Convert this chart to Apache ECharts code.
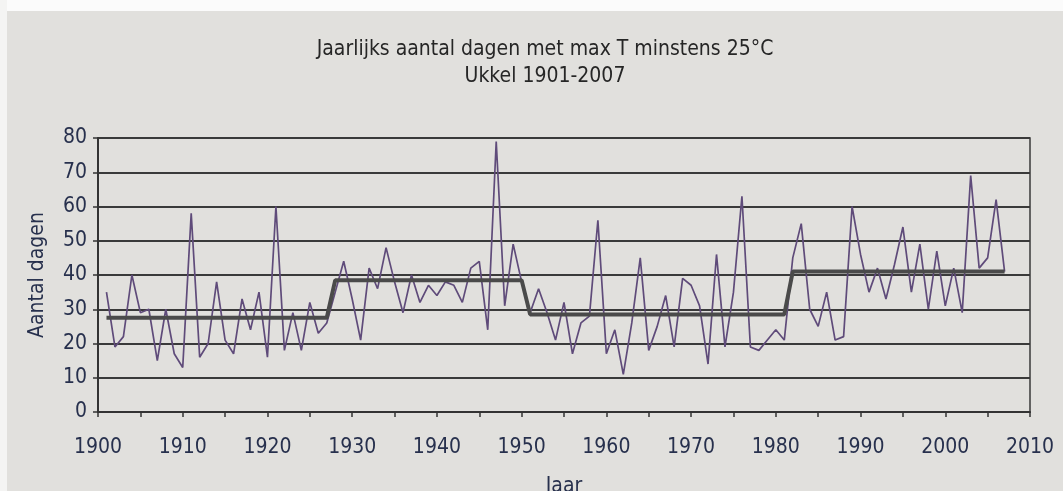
<!DOCTYPE html>
<html>
<head>
<meta charset="utf-8">
<script src="https://cdn.jsdelivr.net/npm/echarts@6/dist/echarts.min.js"></script>
<style>
html,body{margin:0;padding:0;background:#e1e0dd;}
#chart{width:1063px;height:491px;}
</style>
</head>
<body>
<div id="chart"></div>
<script>
// ---- Data ----
const years = [];
for (let y = 1901; y <= 2007; y++) years.push(y);

const daysAbove25 = [
  35, 19, 22, 40, 29, 30, 15, 30, 17, 13,   // 1901-1910
  58, 16, 20, 38, 21, 17, 33, 24, 35, 16,   // 1911-1920
  60, 18, 29, 18, 32, 23, 26, 35, 44, 33,   // 1921-1930
  21, 42, 36, 48, 38, 29, 40, 32, 37, 34,   // 1931-1940
  38, 37, 32, 42, 44, 24, 79, 31, 49, 38,   // 1941-1950
  29, 36, 29, 21, 32, 17, 26, 28, 56, 17,   // 1951-1960
  24, 11, 26, 45, 18, 25, 34, 19, 39, 37,   // 1961-1970
  31, 14, 46, 19, 35, 63, 19, 18, 21, 24,   // 1971-1980
  21, 45, 55, 30, 25, 35, 21, 22, 60, 46,   // 1981-1990
  35, 42, 33, 43, 54, 35, 49, 30, 47, 31,   // 1991-2000
  42, 29, 69, 42, 45, 62, 41                // 2001-2007
];

const periodStarts = [1901, 1928, 1951, 1982];
const periodEnds   = [1927, 1950, 1981, 2007];
const periodMeans  = [27.5, 38.5, 28.5, 41];

const yTicks = [0, 10, 20, 30, 40, 50, 60, 70, 80];
const xTickStart = 1900, xTickEnd = 2010, xTickStep = 10;

const titleText = 'Jaarlijks aantal dagen met max T minstens 25°C\nUkkel 1901-2007';
const yName = 'Aantal dagen';
const xName = 'Jaar';

// ---- Build series data ----
const lineData = years.map((y, i) => [y, daysAbove25[i]]);
const meanData = years.map(y => {
  for (let k = 0; k < periodStarts.length; k++) {
    if (y >= periodStarts[k] && y <= periodEnds[k]) return [y, periodMeans[k]];
  }
  return [y, null];
});

const FONT = "'Liberation Sans Narrow', 'DejaVu Sans Condensed', sans-serif";
const LABEL_COLOR = '#27304d';

const chart = echarts.init(document.getElementById('chart'), null, {renderer: 'canvas'});
chart.setOption({
  backgroundColor: '#e1e0dd',
  animation: false,
  graphic: [
    {type: 'rect', left: 0, top: 0, shape: {width: 1063, height: 11}, style: {fill: '#fbfbfb'}, z: -1},
    {type: 'rect', left: 0, top: 0, shape: {width: 7, height: 491}, style: {fill: '#f4f4f3'}, z: -1}
  ],
  title: {
    text: titleText,
    left: 540,
    top: 31,
    textAlign: 'center',
    textStyle: {
      fontFamily: FONT, fontSize: 21, fontWeight: 'normal',
      color: '#262626', lineHeight: 27
    }
  },
  grid: {
    left: 98, right: 33, top: 138, bottom: 79,
    containLabel: false,
    outerBoundsMode: 'none',
    show: true, borderColor: '#3a3a3a', borderWidth: 1.5,
    backgroundColor: 'transparent'
  },
  xAxis: {
    type: 'value',
    min: xTickStart, max: xTickEnd, interval: xTickStep,
    name: xName, nameLocation: 'middle', nameGap: 64,
    nameTextStyle: {fontFamily: FONT, fontSize: 21, color: LABEL_COLOR},
    axisLine: {show: true, lineStyle: {color: '#333', width: 2}},
    axisTick: {show: true, length: 5, lineStyle: {color: '#333', width: 1.5}},
    minorTick: {show: true, splitNumber: 2, length: 5, lineStyle: {color: '#333', width: 1.5}},
    splitLine: {show: false},
    axisLabel: {
      fontFamily: FONT, fontSize: 21, color: LABEL_COLOR, margin: 25,
      formatter: v => String(v)
    }
  },
  yAxis: {
    type: 'value',
    min: yTicks[0], max: yTicks[yTicks.length - 1], interval: 10,
    name: yName, nameLocation: 'middle', nameGap: 50, nameRotate: 90,
    nameTextStyle: {fontFamily: FONT, fontSize: 21, color: LABEL_COLOR},
    axisLine: {show: true, lineStyle: {color: '#333', width: 2}},
    axisTick: {show: true, length: 5, lineStyle: {color: '#333', width: 1.5}},
    splitLine: {show: true, lineStyle: {color: '#3a3a3a', width: 1.8}},
    axisLabel: {fontFamily: FONT, fontSize: 21, color: LABEL_COLOR, margin: 11}
  },
  series: [
    {
      name: 'Aantal dagen',
      type: 'line',
      data: lineData,
      showSymbol: false,
      symbol: 'none',
      lineStyle: {color: '#5f4b7a', width: 1.7},
      z: 2
    },
    {
      name: 'Gemiddelde',
      type: 'line',
      data: meanData,
      showSymbol: false,
      symbol: 'none',
      lineStyle: {color: '#4a4a4a', width: 4},
      z: 3
    }
  ]
});
</script>
</body>
</html>
